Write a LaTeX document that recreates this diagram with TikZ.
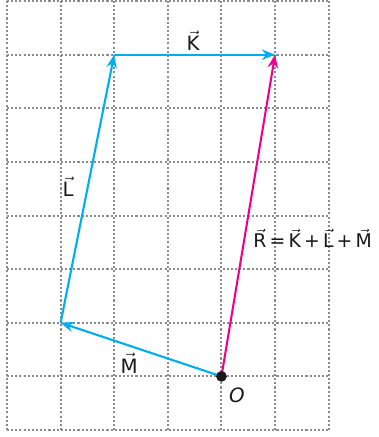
\documentclass[tikz,border=0pt]{standalone}
\usepackage{fontspec}
\setmainfont{DejaVu Sans}
\usetikzlibrary{arrows.meta}

\definecolor{vcyan}{RGB}{0,174,239}
\definecolor{vmagenta}{RGB}{236,0,140}
\newcommand{\vecl}[1]{$\vec{\mbox{#1}}$}

\begin{document}
\begin{tikzpicture}[
    gridline/.style={gray!90, dash pattern=on 1.1pt off 1.1pt, line width=1.1pt},
    vecarrow/.style={line width=1.1pt, -{Stealth[length=7pt,width=5.5pt]}},
    lbl/.style={anchor=base, inner sep=0pt, text=black!90, font=\fontsize{10.5}{12}\selectfont}]
    \useasboundingbox (-0.13,-0.13) rectangle (6.92,8.02);

    % Dotted grid
    \foreach \x in {0,...,6} {
      \draw[gridline] (\x,0) -- (\x,8);
    }
    \foreach \y in {0,...,8} {
      \draw[gridline] (0,\y) -- (6,\y);
    }

    % Corners of the polygon
    \coordinate (O) at (4,1);
    \coordinate (endM) at (1,2);
    \coordinate (endL) at (2,7);
    \coordinate (endK) at (5,7);

    % Vectors M, L, K and their sum R
    \draw[vecarrow, vcyan] (O) -- (endM);
    \draw[vecarrow, vcyan] (endM) -- (endL);
    \draw[vecarrow, vcyan] (endL) -- (endK);
    \draw[vecarrow, vmagenta] (O) -- (endK);
    \fill[black!90] (O) circle (0.1);

    % Labels
    \node[lbl] (labK) at (3.47,7.07) {\vecl{K}};
    \node[lbl] (labL) at (1.14,4.35) {\vecl{L}};
    \node[lbl] (labM) at (2.28,1.06) {\vecl{M}};
    \node[lbl] (labO) at (4.29,0.52) {\textit{O}};
    \node[lbl, anchor=base west, font=\fontsize{10}{12}\selectfont] (labR) at (4.59,3.40)
      {\vecl{R}\,=\,\vecl{K}\,+\,\vecl{L}\,+\,\vecl{M}};
\end{tikzpicture}
\end{document}
